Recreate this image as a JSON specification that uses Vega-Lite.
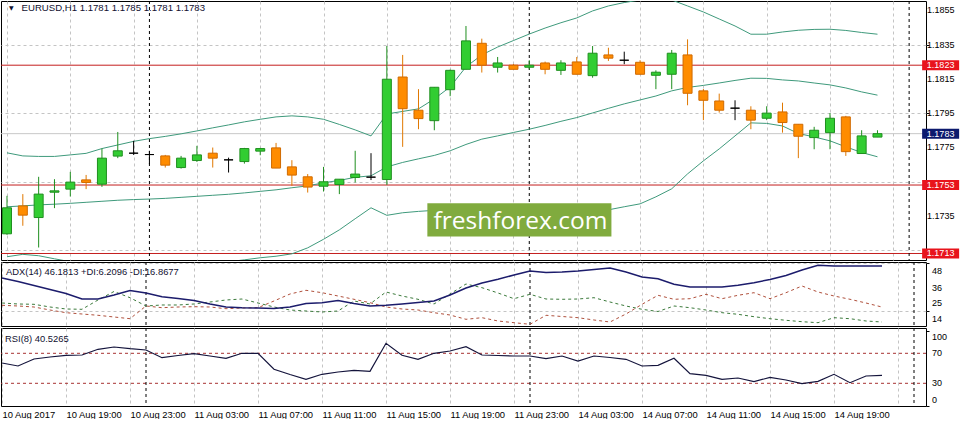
{
  "$schema": "https://vega.github.io/schema/vega-lite/v6.json",
  "padding": 0,
  "background": "white",
  "spacing": 2,
  "bounds": "flush",
  "config": {
    "view": {"stroke": "#000000", "strokeWidth": 1},
    "axis": {"labelFont": "Liberation Sans", "labelFontSize": 9, "labelColor": "#000000", "gridColor": "#c4c4c4", "gridDash": [3, 3], "gridWidth": 1, "tickColor": "#000000", "domain": false, "title": null, "labelOverlap": false, "labelBound": false, "labelFlush": false},
    "text": {"font": "Liberation Sans"}
  },
  "datasets": {
    "bars": [
      {"i":0,"o":1.17245,"h":1.17467,"l":1.17239,"c":1.17397,"bu":1.17718,"bm":1.17403,"bl":1.17111,"adx":37.61,"pdi":19.77,"mdi":18.13,"rsi":57.07},
      {"i":1,"o":1.17408,"h":1.17477,"l":1.17292,"c":1.17354,"bu":1.17700,"bm":1.17408,"bl":1.17125,"adx":35.12,"pdi":19.06,"mdi":17.63,"rsi":53.07},
      {"i":2,"o":1.17340,"h":1.17578,"l":1.17165,"c":1.17477,"bu":1.17697,"bm":1.17414,"bl":1.17117,"adx":32.26,"pdi":18.84,"mdi":16.91,"rsi":62.40},
      {"i":3,"o":1.17488,"h":1.17564,"l":1.17395,"c":1.17496,"bu":1.17697,"bm":1.17418,"bl":1.17099,"adx":29.41,"pdi":16.91,"mdi":14.77,"rsi":65.07},
      {"i":4,"o":1.17506,"h":1.17607,"l":1.17463,"c":1.17547,"bu":1.17706,"bm":1.17423,"bl":1.17082,"adx":26.55,"pdi":15.49,"mdi":12.85,"rsi":67.33},
      {"i":5,"o":1.17560,"h":1.17589,"l":1.17506,"c":1.17545,"bu":1.17715,"bm":1.17429,"bl":1.17070,"adx":22.62,"pdi":15.27,"mdi":11.92,"rsi":67.73},
      {"i":6,"o":1.17535,"h":1.17743,"l":1.17519,"c":1.17687,"bu":1.17743,"bm":1.17435,"bl":1.17064,"adx":22.62,"pdi":21.91,"mdi":10.99,"rsi":75.33},
      {"i":7,"o":1.17699,"h":1.17840,"l":1.17687,"c":1.17730,"bu":1.17764,"bm":1.17441,"bl":1.17058,"adx":25.48,"pdi":27.98,"mdi":9.78,"rsi":78.40},
      {"i":8,"o":1.17716,"h":1.17788,"l":1.17706,"c":1.17716,"bu":1.17785,"bm":1.17445,"bl":1.17058,"adx":28.69,"pdi":23.55,"mdi":8.56,"rsi":76.13},
      {"i":9,"o":1.17708,"h":1.17730,"l":1.17652,"c":1.17708,"bu":1.17801,"bm":1.17448,"bl":1.17058,"adx":26.91,"pdi":17.63,"mdi":17.63,"rsi":74.40},
      {"i":10,"o":1.17700,"h":1.17706,"l":1.17632,"c":1.17646,"bu":1.17814,"bm":1.17452,"bl":1.17058,"adx":24.27,"pdi":18.34,"mdi":16.41,"rsi":64.13},
      {"i":11,"o":1.17632,"h":1.17700,"l":1.17626,"c":1.17687,"bu":1.17829,"bm":1.17458,"bl":1.17061,"adx":22.98,"pdi":18.34,"mdi":16.91,"rsi":67.07},
      {"i":12,"o":1.17673,"h":1.17759,"l":1.17665,"c":1.17706,"bu":1.17846,"bm":1.17464,"bl":1.17064,"adx":21.55,"pdi":19.06,"mdi":17.13,"rsi":69.47},
      {"i":13,"o":1.17716,"h":1.17749,"l":1.17632,"c":1.17687,"bu":1.17864,"bm":1.17470,"bl":1.17070,"adx":19.06,"pdi":20.48,"mdi":16.91,"rsi":66.40},
      {"i":14,"o":1.17677,"h":1.17690,"l":1.17603,"c":1.17677,"bu":1.17881,"bm":1.17476,"bl":1.17082,"adx":16.91,"pdi":21.91,"mdi":15.70,"rsi":63.33},
      {"i":15,"o":1.17667,"h":1.17747,"l":1.17655,"c":1.17743,"bu":1.17899,"bm":1.17484,"bl":1.17093,"adx":16.41,"pdi":22.62,"mdi":16.20,"rsi":70.00},
      {"i":16,"o":1.17728,"h":1.17747,"l":1.17704,"c":1.17743,"bu":1.17914,"bm":1.17493,"bl":1.17105,"adx":16.20,"pdi":19.77,"mdi":16.41,"rsi":70.00},
      {"i":17,"o":1.17747,"h":1.17776,"l":1.17629,"c":1.17629,"bu":1.17928,"bm":1.17502,"bl":1.17114,"adx":15.84,"pdi":16.91,"mdi":21.20,"rsi":48.67},
      {"i":18,"o":1.17636,"h":1.17675,"l":1.17525,"c":1.17588,"bu":1.17934,"bm":1.17514,"bl":1.17128,"adx":16.91,"pdi":14.77,"mdi":26.19,"rsi":41.73},
      {"i":19,"o":1.17578,"h":1.17594,"l":1.17486,"c":1.17518,"bu":1.17928,"bm":1.17525,"bl":1.17163,"adx":19.41,"pdi":14.06,"mdi":28.83,"rsi":35.33},
      {"i":20,"o":1.17523,"h":1.17636,"l":1.17492,"c":1.17549,"bu":1.17914,"bm":1.17543,"bl":1.17213,"adx":19.98,"pdi":13.35,"mdi":27.12,"rsi":42.00},
      {"i":21,"o":1.17533,"h":1.17564,"l":1.17477,"c":1.17564,"bu":1.17884,"bm":1.17557,"bl":1.17268,"adx":21.55,"pdi":14.06,"mdi":24.77,"rsi":45.07},
      {"i":22,"o":1.17574,"h":1.17730,"l":1.17545,"c":1.17594,"bu":1.17852,"bm":1.17575,"bl":1.17333,"adx":19.41,"pdi":21.20,"mdi":22.41,"rsi":47.33},
      {"i":23,"o":1.17576,"h":1.17716,"l":1.17559,"c":1.17576,"bu":1.17817,"bm":1.17584,"bl":1.17397,"adx":17.63,"pdi":19.06,"mdi":19.98,"rsi":46.00},
      {"i":24,"o":1.17562,"h":1.18342,"l":1.17531,"c":1.18148,"bu":1.17945,"bm":1.17636,"bl":1.17353,"adx":18.13,"pdi":27.62,"mdi":16.91,"rsi":83.33},
      {"i":25,"o":1.18161,"h":1.18290,"l":1.17753,"c":1.17976,"bu":1.17960,"bm":1.17662,"bl":1.17368,"adx":19.06,"pdi":24.77,"mdi":15.49,"rsi":67.33},
      {"i":26,"o":1.17967,"h":1.18090,"l":1.17856,"c":1.17918,"bu":1.17975,"bm":1.17683,"bl":1.17376,"adx":20.13,"pdi":22.41,"mdi":14.77,"rsi":62.00},
      {"i":27,"o":1.17906,"h":1.18101,"l":1.17850,"c":1.18101,"bu":1.18033,"bm":1.17703,"bl":1.17382,"adx":21.20,"pdi":19.06,"mdi":12.85,"rsi":70.00},
      {"i":28,"o":1.18087,"h":1.18204,"l":1.18049,"c":1.18200,"bu":1.18103,"bm":1.17730,"bl":1.17385,"adx":25.48,"pdi":26.19,"mdi":11.20,"rsi":73.07},
      {"i":29,"o":1.18206,"h":1.18459,"l":1.18206,"c":1.18372,"bu":1.18220,"bm":1.17767,"bl":1.17382,"adx":30.48,"pdi":33.33,"mdi":8.13,"rsi":78.80},
      {"i":30,"o":1.18358,"h":1.18385,"l":1.18187,"c":1.18230,"bu":1.18290,"bm":1.17798,"bl":1.17379,"adx":34.05,"pdi":30.69,"mdi":9.28,"rsi":67.73},
      {"i":31,"o":1.18218,"h":1.18278,"l":1.18187,"c":1.18243,"bu":1.18336,"bm":1.17817,"bl":1.17376,"adx":36.69,"pdi":26.91,"mdi":6.92,"rsi":67.07},
      {"i":32,"o":1.18230,"h":1.18237,"l":1.18206,"c":1.18206,"bu":1.18374,"bm":1.17837,"bl":1.17373,"adx":39.76,"pdi":22.84,"mdi":5.71,"rsi":66.40},
      {"i":33,"o":1.18218,"h":1.18259,"l":1.18206,"c":1.18230,"bu":1.18412,"bm":1.17856,"bl":1.17371,"adx":42.61,"pdi":25.98,"mdi":4.57,"rsi":66.40},
      {"i":34,"o":1.18243,"h":1.18251,"l":1.18177,"c":1.18206,"bu":1.18447,"bm":1.17878,"bl":1.17371,"adx":41.54,"pdi":22.62,"mdi":10.99,"rsi":62.80},
      {"i":35,"o":1.18200,"h":1.18259,"l":1.18173,"c":1.18243,"bu":1.18478,"bm":1.17902,"bl":1.17373,"adx":41.90,"pdi":22.41,"mdi":10.13,"rsi":66.40},
      {"i":36,"o":1.18249,"h":1.18278,"l":1.18177,"c":1.18177,"bu":1.18506,"bm":1.17924,"bl":1.17376,"adx":42.61,"pdi":22.62,"mdi":9.28,"rsi":59.73},
      {"i":37,"o":1.18169,"h":1.18342,"l":1.18157,"c":1.18300,"bu":1.18547,"bm":1.17951,"bl":1.17379,"adx":43.68,"pdi":23.55,"mdi":7.63,"rsi":66.40},
      {"i":38,"o":1.18290,"h":1.18332,"l":1.18255,"c":1.18271,"bu":1.18576,"bm":1.17978,"bl":1.17385,"adx":44.75,"pdi":20.48,"mdi":6.21,"rsi":64.40},
      {"i":39,"o":1.18259,"h":1.18309,"l":1.18236,"c":1.18259,"bu":1.18596,"bm":1.18004,"bl":1.17403,"adx":41.90,"pdi":17.63,"mdi":11.92,"rsi":62.00},
      {"i":40,"o":1.18247,"h":1.18259,"l":1.18177,"c":1.18177,"bu":1.18611,"bm":1.18027,"bl":1.17420,"adx":38.33,"pdi":15.27,"mdi":18.84,"rsi":53.07},
      {"i":41,"o":1.18171,"h":1.18200,"l":1.18090,"c":1.18189,"bu":1.18617,"bm":1.18050,"bl":1.17461,"adx":37.11,"pdi":13.70,"mdi":25.27,"rsi":54.00},
      {"i":42,"o":1.18177,"h":1.18319,"l":1.18090,"c":1.18300,"bu":1.18611,"bm":1.18080,"bl":1.17508,"adx":33.12,"pdi":17.63,"mdi":22.41,"rsi":63.33},
      {"i":43,"o":1.18290,"h":1.18381,"l":1.17996,"c":1.18066,"bu":1.18576,"bm":1.18100,"bl":1.17595,"adx":31.19,"pdi":16.41,"mdi":22.84,"rsi":42.80},
      {"i":44,"o":1.18080,"h":1.18091,"l":1.17909,"c":1.18025,"bu":1.18541,"bm":1.18112,"bl":1.17671,"adx":31.19,"pdi":14.77,"mdi":25.98,"rsi":40.67},
      {"i":45,"o":1.18021,"h":1.18064,"l":1.17953,"c":1.17967,"bu":1.18500,"bm":1.18126,"bl":1.17741,"adx":31.19,"pdi":12.85,"mdi":22.84,"rsi":35.33},
      {"i":46,"o":1.17979,"h":1.18025,"l":1.17909,"c":1.17979,"bu":1.18459,"bm":1.18141,"bl":1.17817,"adx":32.40,"pdi":11.70,"mdi":25.27,"rsi":37.07},
      {"i":47,"o":1.17967,"h":1.17990,"l":1.17856,"c":1.17909,"bu":1.18411,"bm":1.18154,"bl":1.17893,"adx":34.26,"pdi":9.99,"mdi":27.12,"rsi":32.13},
      {"i":48,"o":1.17920,"h":1.17990,"l":1.17909,"c":1.17950,"bu":1.18411,"bm":1.18153,"bl":1.17890,"adx":36.54,"pdi":8.56,"mdi":22.84,"rsi":38.00},
      {"i":49,"o":1.17957,"h":1.18011,"l":1.17836,"c":1.17895,"bu":1.18424,"bm":1.18144,"bl":1.17875,"adx":39.40,"pdi":7.42,"mdi":27.12,"rsi":34.40},
      {"i":50,"o":1.17885,"h":1.17885,"l":1.17687,"c":1.17815,"bu":1.18434,"bm":1.18138,"bl":1.17831,"adx":43.32,"pdi":6.42,"mdi":31.90,"rsi":29.47},
      {"i":51,"o":1.17807,"h":1.17870,"l":1.17739,"c":1.17850,"bu":1.18439,"bm":1.18126,"bl":1.17811,"adx":46.68,"pdi":5.71,"mdi":27.62,"rsi":32.67},
      {"i":52,"o":1.17836,"h":1.17950,"l":1.17739,"c":1.17920,"bu":1.18440,"bm":1.18115,"bl":1.17788,"adx":46.18,"pdi":9.28,"mdi":24.77,"rsi":42.00},
      {"i":53,"o":1.17928,"h":1.17934,"l":1.17700,"c":1.17725,"bu":1.18433,"bm":1.18097,"bl":1.17753,"adx":46.18,"pdi":8.56,"mdi":22.41,"rsi":30.80},
      {"i":54,"o":1.17714,"h":1.17850,"l":1.17714,"c":1.17817,"bu":1.18421,"bm":1.18074,"bl":1.17720,"adx":46.18,"pdi":6.92,"mdi":19.77,"rsi":39.73},
      {"i":55,"o":1.1781,"h":1.1785,"l":1.1781,"c":1.1783,"bu":1.18411,"bm":1.18055,"bl":1.17695,"adx":46.1813,"pdi":6.2096,"mdi":16.8677,"rsi":40.5265}
    ],
    "seps": [{"i": 9}, {"i": 33}, {"i": 57}],
    "levels": [
      {"p": 1.1823, "kind": "line"},
      {"p": 1.1753, "kind": "line"},
      {"p": 1.1713, "kind": "line"},
      {"p": 1.1783, "kind": "bid"}
    ],
    "pticks": [{"p": 1.1735}, {"p": 1.1775}, {"p": 1.1795}, {"p": 1.1815}, {"p": 1.1835}, {"p": 1.1855}],
    "aticks": [{"v": 14}, {"v": 25}, {"v": 36}, {"v": 48}],
    "rticks": [{"v": 0}, {"v": 30}, {"v": 70}, {"v": 100}],
    "rsilev": [{"v": 30}, {"v": 70}],
    "one": [{"k": 1}]
  },
  "vconcat": [
    {
      "width": 925,
      "height": 259,
      "layer": [
        {
          "data": {"name": "levels"},
          "transform": [{"filter": "datum.kind == 'bid'"}],
          "mark": {"type": "rule", "color": "#c8c8c8", "strokeWidth": 1},
          "encoding": {
            "y": {"field": "p", "type": "quantitative",
              "scale": {"domain": [1.17092, 1.18605], "nice": false, "zero": false},
              "axis": {"orient": "right", "values": [1.1715, 1.1735, 1.1755, 1.1775, 1.1795, 1.1815, 1.1835, 1.1855], "labels": false, "grid": true, "ticks": true, "tickSize": 3, "title": null}}
          }
        },
        {
          "data": {"name": "levels"},
          "transform": [{"filter": "datum.kind == 'line'"}],
          "mark": {"type": "rule", "color": "#c41e1e", "strokeWidth": 1},
          "encoding": {
            "y": {"field": "p", "type": "quantitative", "scale": {"domain": [1.17092, 1.18605], "nice": false, "zero": false}}
          }
        },
        {
          "data": {"name": "seps"},
          "mark": {"type": "rule", "color": "#000000", "strokeDash": [3, 3], "strokeWidth": 1},
          "encoding": {
            "x": {"field": "i", "type": "quantitative",
              "scale": {"domain": [-0.0625, 57.75], "nice": false, "zero": false},
              "axis": {"values": [0,2,4,6,8,10,12,14,16,18,20,22,24,26,28,30,32,34,36,38,40,42,44,46,48,50,52,54,56], "labels": false, "ticks": false, "grid": true, "title": null}}
          }
        },
        {
          "data": {"name": "bars"},
          "mark": {"type": "line", "color": "#3f9a7c", "strokeWidth": 1, "clip": true},
          "encoding": {
            "x": {"field": "i", "type": "quantitative", "scale": {"domain": [-0.0625, 57.75], "nice": false, "zero": false}},
            "y": {"field": "bu", "type": "quantitative", "scale": {"domain": [1.17092, 1.18605], "nice": false, "zero": false}}
          }
        },
        {
          "data": {"name": "bars"},
          "mark": {"type": "line", "color": "#3f9a7c", "strokeWidth": 1, "clip": true},
          "encoding": {
            "x": {"field": "i", "type": "quantitative", "scale": {"domain": [-0.0625, 57.75], "nice": false, "zero": false}},
            "y": {"field": "bm", "type": "quantitative", "scale": {"domain": [1.17092, 1.18605], "nice": false, "zero": false}}
          }
        },
        {
          "data": {"name": "bars"},
          "mark": {"type": "line", "color": "#3f9a7c", "strokeWidth": 1, "clip": true},
          "encoding": {
            "x": {"field": "i", "type": "quantitative", "scale": {"domain": [-0.0625, 57.75], "nice": false, "zero": false}},
            "y": {"field": "bl", "type": "quantitative", "scale": {"domain": [1.17092, 1.18605], "nice": false, "zero": false}}
          }
        },
        {
          "data": {"name": "one"},
          "mark": {"type": "rect", "color": "#80ab3e", "opacity": 1},
          "encoding": {
            "x": {"datum": 26.56, "type": "quantitative", "scale": {"domain": [-0.0625, 57.75], "nice": false, "zero": false}},
            "x2": {"datum": 38.19},
            "y": {"datum": 1.17424, "type": "quantitative", "scale": {"domain": [1.17092, 1.18605], "nice": false, "zero": false}},
            "y2": {"datum": 1.17229}
          }
        },
        {
          "data": {"name": "one"},
          "mark": {"type": "text", "font": "Open Sans", "fontSize": 24.5, "color": "#ffffff", "align": "center", "baseline": "alphabetic"},
          "encoding": {
            "x": {"datum": 32.44, "type": "quantitative", "scale": {"domain": [-0.0625, 57.75], "nice": false, "zero": false}},
            "y": {"datum": 1.17272, "type": "quantitative", "scale": {"domain": [1.17092, 1.18605], "nice": false, "zero": false}},
            "text": {"value": "freshforex.com"}
          }
        },
        {
          "data": {"name": "bars"},
          "mark": {"type": "rule", "strokeWidth": 1},
          "encoding": {
            "x": {"field": "i", "type": "quantitative", "scale": {"domain": [-0.0625, 57.75], "nice": false, "zero": false}},
            "y": {"field": "l", "type": "quantitative", "scale": {"domain": [1.17092, 1.18605], "nice": false, "zero": false}},
            "y2": {"field": "h"},
            "color": {"condition": [{"test": "datum.c > datum.o", "value": "#1f8f1f"}, {"test": "datum.c < datum.o", "value": "#e07800"}], "value": "#000000"}
          }
        },
        {
          "data": {"name": "bars"},
          "mark": {"type": "bar", "size": 9, "strokeWidth": 1, "opacity": 1},
          "encoding": {
            "x": {"field": "i", "type": "quantitative", "scale": {"domain": [-0.0625, 57.75], "nice": false, "zero": false}},
            "y": {"field": "o", "type": "quantitative", "scale": {"domain": [1.17092, 1.18605], "nice": false, "zero": false}},
            "y2": {"field": "c"},
            "fill": {"condition": [{"test": "datum.c > datum.o", "value": "#32cd32"}, {"test": "datum.c < datum.o", "value": "#ff8c00"}], "value": "#000000"},
            "stroke": {"condition": [{"test": "datum.c > datum.o", "value": "#1f8f1f"}, {"test": "datum.c < datum.o", "value": "#d06a00"}], "value": "#000000"}
          }
        },
        {
          "data": {"name": "one"},
          "mark": {"type": "text", "fontSize": 9.6, "color": "#101030", "align": "left", "baseline": "middle"},
          "encoding": {
            "x": {"datum": 0.92, "type": "quantitative", "scale": {"domain": [-0.0625, 57.75], "nice": false, "zero": false}},
            "y": {"datum": 1.18562, "type": "quantitative", "scale": {"domain": [1.17092, 1.18605], "nice": false, "zero": false}},
            "text": {"value": "EURUSD,H1  1.1781 1.1785 1.1781 1.1783"}
          }
        },
        {
          "data": {"name": "one"},
          "mark": {"type": "text", "font": "DejaVu Sans", "fontSize": 6, "color": "#101030", "align": "center", "baseline": "middle"},
          "encoding": {
            "x": {"datum": 0.28, "type": "quantitative", "scale": {"domain": [-0.0625, 57.75], "nice": false, "zero": false}},
            "y": {"datum": 1.18562, "type": "quantitative", "scale": {"domain": [1.17092, 1.18605], "nice": false, "zero": false}},
            "text": {"value": "▼"}
          }
        },
        {
          "data": {"name": "pticks"},
          "mark": {"type": "text", "fontSize": 9, "color": "#000000", "align": "left", "baseline": "middle", "dx": 6},
          "encoding": {
            "x": {"datum": 57.75, "type": "quantitative", "scale": {"domain": [-0.0625, 57.75], "nice": false, "zero": false}},
            "y": {"field": "p", "type": "quantitative", "scale": {"domain": [1.17092, 1.18605], "nice": false, "zero": false}},
            "text": {"field": "p", "type": "quantitative", "format": ".4f"}
          }
        },
        {
          "data": {"name": "levels"},
          "mark": {"type": "tick", "orient": "horizontal", "thickness": 10, "size": 37, "opacity": 1},
          "encoding": {
            "x": {"datum": 58.99, "type": "quantitative", "scale": {"domain": [-0.0625, 57.75], "nice": false, "zero": false}},
            "y": {"field": "p", "type": "quantitative", "scale": {"domain": [1.17092, 1.18605], "nice": false, "zero": false}},
            "color": {"condition": {"test": "datum.kind == 'bid'", "value": "#0c1a6e"}, "value": "#e8141c"}
          }
        },
        {
          "data": {"name": "levels"},
          "mark": {"type": "text", "fontSize": 9, "color": "#ffffff", "align": "center", "baseline": "middle"},
          "encoding": {
            "x": {"datum": 58.99, "type": "quantitative", "scale": {"domain": [-0.0625, 57.75], "nice": false, "zero": false}},
            "y": {"field": "p", "type": "quantitative", "scale": {"domain": [1.17092, 1.18605], "nice": false, "zero": false}},
            "text": {"field": "p", "type": "quantitative", "format": ".4f"}
          }
        }
      ]
    },
    {
      "width": 925,
      "height": 64,
      "layer": [
        {
          "data": {"name": "seps"},
          "mark": {"type": "rule", "color": "#000000", "strokeDash": [3, 3], "strokeWidth": 1},
          "encoding": {
            "x": {"field": "i", "type": "quantitative",
              "scale": {"domain": [-0.0625, 57.75], "nice": false, "zero": false},
              "axis": {"values": [0,2,4,6,8,10,12,14,16,18,20,22,24,26,28,30,32,34,36,38,40,42,44,46,48,50,52,54,56], "labels": false, "ticks": false, "grid": true, "title": null}}
          }
        },
        {
          "data": {"name": "bars"},
          "mark": {"type": "line", "color": "#3b7a3b", "strokeWidth": 1, "strokeDash": [3, 3], "clip": true},
          "encoding": {
            "x": {"field": "i", "type": "quantitative", "scale": {"domain": [-0.0625, 57.75], "nice": false, "zero": false}},
            "y": {"field": "pdi", "type": "quantitative",
              "scale": {"domain": [3.35, 49.03], "nice": false, "zero": false},
              "axis": {"orient": "right", "values": [14, 25, 36, 48], "labels": false, "grid": true, "ticks": true, "tickSize": 3, "title": null}}
          }
        },
        {
          "data": {"name": "bars"},
          "mark": {"type": "line", "color": "#b0503c", "strokeWidth": 1, "strokeDash": [3, 3], "clip": true},
          "encoding": {
            "x": {"field": "i", "type": "quantitative", "scale": {"domain": [-0.0625, 57.75], "nice": false, "zero": false}},
            "y": {"field": "mdi", "type": "quantitative", "scale": {"domain": [3.35, 49.03], "nice": false, "zero": false}}
          }
        },
        {
          "data": {"name": "bars"},
          "mark": {"type": "line", "color": "#1c1c6c", "strokeWidth": 1.5, "clip": true},
          "encoding": {
            "x": {"field": "i", "type": "quantitative", "scale": {"domain": [-0.0625, 57.75], "nice": false, "zero": false}},
            "y": {"field": "adx", "type": "quantitative", "scale": {"domain": [3.35, 49.03], "nice": false, "zero": false}}
          }
        },
        {
          "data": {"name": "one"},
          "mark": {"type": "text", "fontSize": 9.4, "color": "#101030", "align": "left", "baseline": "middle"},
          "encoding": {
            "x": {"datum": 0.25, "type": "quantitative", "scale": {"domain": [-0.0625, 57.75], "nice": false, "zero": false}},
            "y": {"datum": 42.1, "type": "quantitative", "scale": {"domain": [3.35, 49.03], "nice": false, "zero": false}},
            "text": {"value": "ADX(14) 46.1813 +DI:6.2096 -DI:16.8677"}
          }
        },
        {
          "data": {"name": "aticks"},
          "mark": {"type": "text", "fontSize": 9, "color": "#000000", "align": "left", "baseline": "middle", "dx": 6, "dy": 7.5},
          "encoding": {
            "x": {"datum": 57.75, "type": "quantitative", "scale": {"domain": [-0.0625, 57.75], "nice": false, "zero": false}},
            "y": {"field": "v", "type": "quantitative", "scale": {"domain": [3.35, 49.03], "nice": false, "zero": false}},
            "text": {"field": "v", "type": "quantitative", "format": "d"}
          }
        }
      ]
    },
    {
      "width": 925,
      "height": 78,
      "layer": [
        {
          "data": {"name": "rsilev"},
          "mark": {"type": "rule", "color": "#a83232", "strokeDash": [3, 3], "strokeWidth": 1},
          "encoding": {
            "y": {"field": "v", "type": "quantitative",
              "scale": {"domain": [-0.27, 103.73], "nice": false, "zero": false},
              "axis": {"orient": "right", "values": [0, 30, 70, 100], "labels": false, "grid": false, "ticks": true, "tickSize": 3, "title": null}}
          }
        },
        {
          "data": {"name": "seps"},
          "mark": {"type": "rule", "color": "#000000", "strokeDash": [3, 3], "strokeWidth": 1},
          "encoding": {
            "x": {"field": "i", "type": "quantitative",
              "scale": {"domain": [-0.0625, 57.75], "nice": false, "zero": false},
              "axis": {"values": [0,2,4,6,8,10,12,14,16,18,20,22,24,26,28,30,32,34,36,38,40,42,44,46,48,50,52,54,56], "grid": true, "ticks": false, "labels": true, "labelAlign": "left", "labelBaseline": "top", "labelPadding": 4, "labelFontSize": 9.4, "labelOverlap": false, "labelBound": false, "labelFlush": false, "title": null,
                "labelExpr": "(datum.value % 4 == 0 && datum.value <= 52) ? ['10 Aug 2017','10 Aug 19:00','10 Aug 23:00','11 Aug 03:00','11 Aug 07:00','11 Aug 11:00','11 Aug 15:00','11 Aug 19:00','11 Aug 23:00','14 Aug 03:00','14 Aug 07:00','14 Aug 11:00','14 Aug 15:00','14 Aug 19:00'][datum.value / 4] : ''"}}
          }
        },
        {
          "data": {"name": "bars"},
          "mark": {"type": "line", "color": "#14143c", "strokeWidth": 1.2, "clip": true},
          "encoding": {
            "x": {"field": "i", "type": "quantitative", "scale": {"domain": [-0.0625, 57.75], "nice": false, "zero": false}},
            "y": {"field": "rsi", "type": "quantitative", "scale": {"domain": [-0.27, 103.73], "nice": false, "zero": false}}
          }
        },
        {
          "data": {"name": "one"},
          "mark": {"type": "text", "fontSize": 9.4, "color": "#101030", "align": "left", "baseline": "middle"},
          "encoding": {
            "x": {"datum": 0.19, "type": "quantitative", "scale": {"domain": [-0.0625, 57.75], "nice": false, "zero": false}},
            "y": {"datum": 89.5, "type": "quantitative", "scale": {"domain": [-0.27, 103.73], "nice": false, "zero": false}},
            "text": {"value": "RSI(8) 40.5265"}
          }
        },
        {
          "data": {"name": "rticks"},
          "transform": [{"filter": "datum.v > 0 && datum.v < 100"}],
          "mark": {"type": "text", "fontSize": 9, "color": "#000000", "align": "left", "baseline": "middle", "dx": 6},
          "encoding": {
            "x": {"datum": 57.75, "type": "quantitative", "scale": {"domain": [-0.0625, 57.75], "nice": false, "zero": false}},
            "y": {"field": "v", "type": "quantitative", "scale": {"domain": [-0.27, 103.73], "nice": false, "zero": false}},
            "text": {"field": "v", "type": "quantitative", "format": "d"}
          }
        },
        {
          "data": {"name": "rticks"},
          "transform": [{"filter": "datum.v == 100"}],
          "mark": {"type": "text", "fontSize": 9, "color": "#000000", "align": "left", "baseline": "middle", "dx": 6, "dy": 6},
          "encoding": {
            "x": {"datum": 57.75, "type": "quantitative", "scale": {"domain": [-0.0625, 57.75], "nice": false, "zero": false}},
            "y": {"field": "v", "type": "quantitative", "scale": {"domain": [-0.27, 103.73], "nice": false, "zero": false}},
            "text": {"field": "v", "type": "quantitative", "format": "d"}
          }
        },
        {
          "data": {"name": "rticks"},
          "transform": [{"filter": "datum.v == 0"}],
          "mark": {"type": "text", "fontSize": 9, "color": "#000000", "align": "left", "baseline": "middle", "dx": 6, "dy": -6},
          "encoding": {
            "x": {"datum": 57.75, "type": "quantitative", "scale": {"domain": [-0.0625, 57.75], "nice": false, "zero": false}},
            "y": {"field": "v", "type": "quantitative", "scale": {"domain": [-0.27, 103.73], "nice": false, "zero": false}},
            "text": {"field": "v", "type": "quantitative", "format": "d"}
          }
        }
      ]
    }
  ]
}
